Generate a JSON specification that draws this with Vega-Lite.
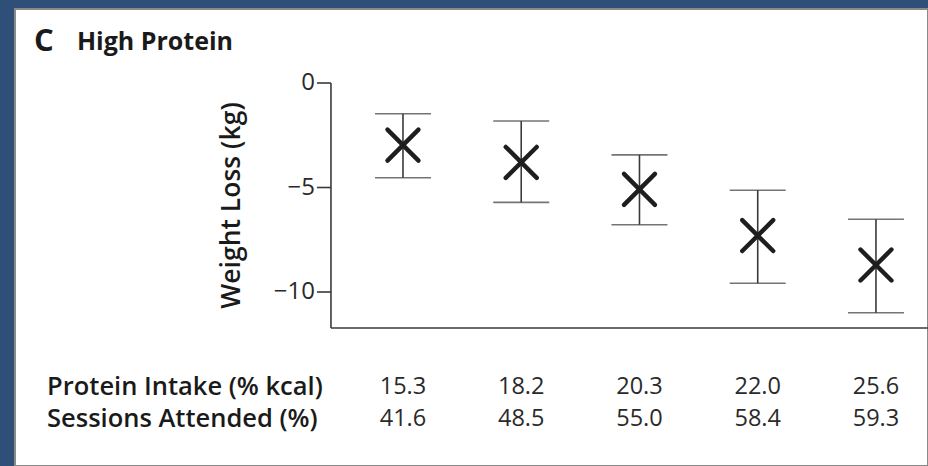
{
  "$schema": "https://vega.github.io/schema/vega-lite/v6.json",
  "width": 913,
  "height": 457,
  "autosize": {"type": "none"},
  "padding": {"left": 15, "top": 9, "right": 0, "bottom": 0},
  "background": "#2e4f77",
  "config": {
    "view": {"fill": "white", "stroke": "#8a8a8a", "strokeWidth": 2},
    "font": "Open Sans"
  },
  "datasets": {
    "points": [
      {"group": 1, "protein": 15.3, "sessions": 41.6, "loss": -2.97, "lo": -4.53, "hi": -1.47},
      {"group": 2, "protein": 18.2, "sessions": 48.5, "loss": -3.80, "lo": -5.71, "hi": -1.82},
      {"group": 3, "protein": 20.3, "sessions": 55.0, "loss": -5.09, "lo": -6.78, "hi": -3.44},
      {"group": 4, "protein": 22.0, "sessions": 58.4, "loss": -7.30, "lo": -9.58, "hi": -5.13},
      {"group": 5, "protein": 25.6, "sessions": 59.3, "loss": -8.71, "lo": -10.99, "hi": -6.52}
    ],
    "axislines": [
      {"x": 0.391, "x2": 0.391, "y": 0, "y2": -11.72},
      {"x": 0.391, "x2": 5.44, "y": -11.72, "y2": -11.72}
    ],
    "yticks": [
      {"value": 0, "label": "0", "tx": 0.2726, "tx2": 0.391, "lx": 0.2557},
      {"value": -5, "label": "−5", "tx": 0.2726, "tx2": 0.391, "lx": 0.2557},
      {"value": -10, "label": "−10", "tx": 0.2726, "tx2": 0.391, "lx": 0.2557}
    ],
    "ytitle": [
      {"label": "Weight Loss (kg)", "pos": -0.445, "row": -5.86}
    ],
    "rowlabels": [
      {"label": "Protein Intake (% kcal)", "pos": -2.01, "row": -14.55},
      {"label": "Sessions Attended (%)", "pos": -2.01, "row": -16.1}
    ],
    "heading": [
      {"label": "C", "pos": -2.12, "row": 1.95, "kind": "letter"},
      {"label": "High Protein", "pos": -1.757, "row": 1.95, "kind": "name"}
    ]
  },
  "layer": [
    {
      "data": {"name": "axislines"},
      "mark": {"type": "rule", "color": "#3a3a3a", "strokeWidth": 1.6},
      "encoding": {
        "x": {"field": "x", "type": "quantitative", "scale": {"domain": [-2.281, 5.44], "nice": false, "zero": false}, "axis": null},
        "x2": {"field": "x2"},
        "y": {"field": "y", "type": "quantitative", "scale": {"domain": [-18.325, 3.541], "nice": false, "zero": false}, "axis": null},
        "y2": {"field": "y2"}
      }
    },
    {
      "data": {"name": "yticks"},
      "mark": {"type": "rule", "color": "#3a3a3a", "strokeWidth": 1.6},
      "encoding": {
        "x": {"field": "tx", "type": "quantitative", "axis": null},
        "x2": {"field": "tx2"},
        "y": {"field": "value", "type": "quantitative", "axis": null}
      }
    },
    {
      "data": {"name": "yticks"},
      "mark": {"type": "text", "font": "Open Sans", "fontSize": 24, "color": "#2a2a2a", "align": "right", "baseline": "middle"},
      "encoding": {
        "x": {"field": "lx", "type": "quantitative", "axis": null},
        "y": {"field": "value", "type": "quantitative", "axis": null},
        "text": {"field": "label", "type": "nominal"}
      }
    },
    {
      "data": {"name": "ytitle"},
      "mark": {"type": "text", "font": "Open Sans", "fontSize": 26.5, "fontWeight": 600, "color": "#1a1a1a", "align": "center", "baseline": "middle", "angle": 270},
      "encoding": {
        "x": {"field": "pos", "type": "quantitative", "axis": null},
        "y": {"field": "row", "type": "quantitative", "axis": null},
        "text": {"field": "label", "type": "nominal"}
      }
    },
    {
      "data": {"name": "points"},
      "mark": {"type": "rule", "color": "#3a3a3a", "strokeWidth": 1.6},
      "encoding": {
        "x": {"field": "group", "type": "quantitative", "axis": null},
        "y": {"field": "lo", "type": "quantitative", "axis": null},
        "y2": {"field": "hi"}
      }
    },
    {
      "data": {"name": "points"},
      "mark": {"type": "tick", "orient": "horizontal", "color": "#3a3a3a", "size": 56, "thickness": 1.6},
      "encoding": {
        "x": {"field": "group", "type": "quantitative", "axis": null},
        "y": {"field": "lo", "type": "quantitative", "axis": null}
      }
    },
    {
      "data": {"name": "points"},
      "mark": {"type": "tick", "orient": "horizontal", "color": "#3a3a3a", "size": 56, "thickness": 1.6},
      "encoding": {
        "x": {"field": "group", "type": "quantitative", "axis": null},
        "y": {"field": "hi", "type": "quantitative", "axis": null}
      }
    },
    {
      "data": {"name": "points"},
      "mark": {"type": "point", "shape": "M-1,-1L1,1M1,-1L-1,1", "filled": false, "stroke": "#1e1e1e", "strokeWidth": 4.4, "strokeCap": "round", "size": 960, "opacity": 1},
      "encoding": {
        "x": {"field": "group", "type": "quantitative", "axis": null},
        "y": {"field": "loss", "type": "quantitative", "axis": null}
      }
    },
    {
      "data": {"name": "points"},
      "mark": {"type": "text", "font": "Open Sans", "fontSize": 23.5, "color": "#2a2a2a", "align": "center", "baseline": "middle"},
      "encoding": {
        "x": {"field": "group", "type": "quantitative", "axis": null},
        "y": {"datum": -14.55, "type": "quantitative", "axis": null},
        "text": {"field": "protein", "type": "quantitative", "format": ".1f"}
      }
    },
    {
      "data": {"name": "points"},
      "mark": {"type": "text", "font": "Open Sans", "fontSize": 23.5, "color": "#2a2a2a", "align": "center", "baseline": "middle"},
      "encoding": {
        "x": {"field": "group", "type": "quantitative", "axis": null},
        "y": {"datum": -16.1, "type": "quantitative", "axis": null},
        "text": {"field": "sessions", "type": "quantitative", "format": ".1f"}
      }
    },
    {
      "data": {"name": "rowlabels"},
      "mark": {"type": "text", "font": "Open Sans", "fontSize": 25.5, "fontWeight": 600, "color": "#1a1a1a", "align": "left", "baseline": "middle"},
      "encoding": {
        "x": {"field": "pos", "type": "quantitative", "axis": null},
        "y": {"field": "row", "type": "quantitative", "axis": null},
        "text": {"field": "label", "type": "nominal"}
      }
    },
    {
      "data": {"name": "heading"},
      "transform": [{"filter": "datum.kind == 'name'"}],
      "mark": {"type": "text", "font": "Open Sans", "fontSize": 25, "fontWeight": 700, "color": "#1a1a1a", "align": "left", "baseline": "middle"},
      "encoding": {
        "x": {"field": "pos", "type": "quantitative", "axis": null},
        "y": {"field": "row", "type": "quantitative", "axis": null},
        "text": {"field": "label", "type": "nominal"}
      }
    },
    {
      "data": {"name": "heading"},
      "transform": [{"filter": "datum.kind == 'letter'"}],
      "mark": {"type": "text", "font": "Open Sans", "fontSize": 31, "fontWeight": 700, "color": "#1a1a1a", "align": "left", "baseline": "middle"},
      "encoding": {
        "x": {"field": "pos", "type": "quantitative", "axis": null},
        "y": {"field": "row", "type": "quantitative", "axis": null},
        "text": {"field": "label", "type": "nominal"}
      }
    }
  ]
}
